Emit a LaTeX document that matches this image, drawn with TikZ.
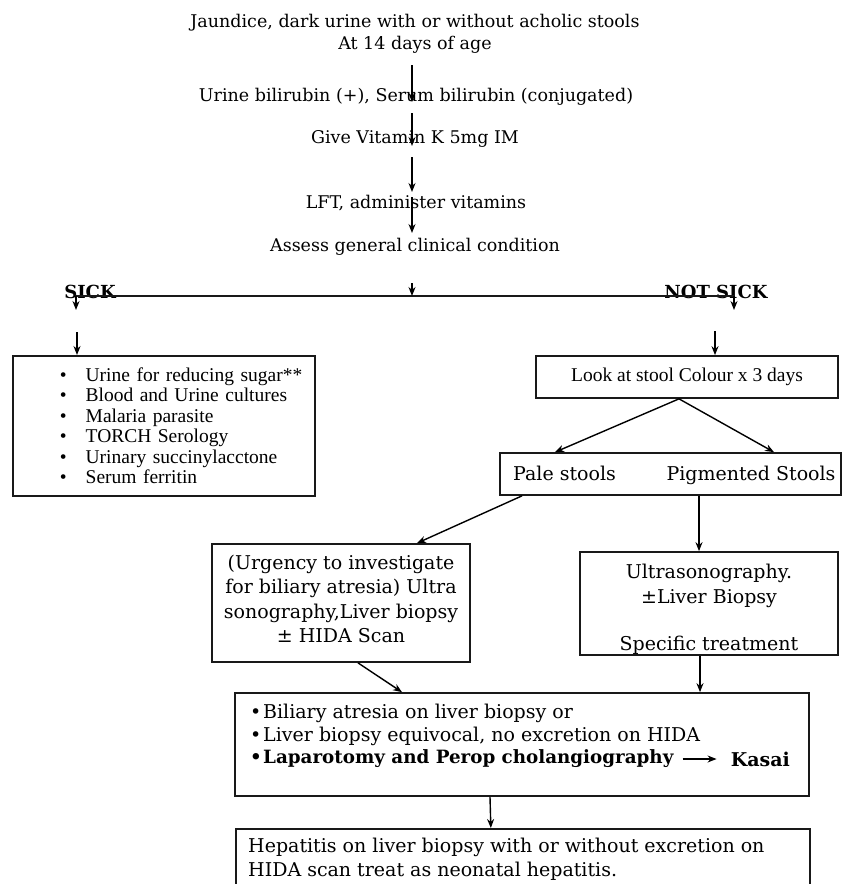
\documentclass[tikz,border=0pt]{standalone}
\usepackage{fontspec}
\setmainfont{DejaVu Serif}
\newfontfamily\listfont{Liberation Serif}
\usetikzlibrary{arrows.meta, calc, positioning}
\newcommand{\toptext}{\fontsize{17.5}{22}\selectfont}
\newcommand{\boxtext}{\fontsize{19}{24.5}\selectfont}
\newcommand{\listtext}{\listfont\fontsize{19.5}{20.5}\selectfont}
\newcommand{\headtext}{\bfseries\fontsize{18}{22}\selectfont}
\tikzset{
  box/.style={draw=black!90, line width=1.7pt, inner sep=0pt},
  plaintext/.style={inner sep=0pt, font=\toptext, align=center},
  linetext/.style={inner sep=0pt, anchor=west, font=\boxtext},
  flow/.style={draw=black, line width=1.4pt, -{Stealth[length=9pt,width=7pt]}},
  bar/.style={draw=black!90, line width=1.7pt}
}

\begin{document}
\begin{tikzpicture}[x=1pt, y=-1pt]
  \useasboundingbox (0,0) rectangle (844,884);
  \clip (0,0) rectangle (844,884);
  % opening steps
  \node[plaintext] (t1) at (415,34) {Jaundice, dark urine with or without acholic stools\\At 14 days of age};
  \node[plaintext] (t2) at (416,97) {Urine bilirubin (+), Serum bilirubin (conjugated)};
  \node[plaintext] (t3) at (415,139) {Give Vitamin K 5mg IM};
  \node[plaintext] (t4) at (416,203) {LFT, administer vitamins};
  \node[plaintext] (t5) at (415,247) {Assess general clinical condition};
  \draw[flow] ($(t1.center)+(-3,31)$) -- ($(t2.center)+(-4,5)$);
  \draw[flow] ($(t2.center)+(-4,16)$) -- ($(t3.center)+(-3,7)$);
  \draw[flow] ($(t3.center)+(-3,18)$) -- ($(t4.center)+(-4,-11)$);
  \draw[flow] ($(t4.center)+(-4,-6)$) -- ($(t5.center)+(-3,-14)$);

  % split sick / not sick
  \node[inner sep=0pt, font=\headtext] (sick) at (90,292) {SICK};
  \node[inner sep=0pt, font=\headtext] (notsick) at (716,292) {NOT SICK};
  \coordinate (split) at (412,296);
  \coordinate (sickend) at (76,296);
  \coordinate (notsickend) at (734,296);
  \draw[bar] (sickend) -- (notsickend);
  \draw[flow] ($(t5.center)+(-3,36)$) -- (split);
  \draw[flow] (sickend) -- ++(0,14);
  \draw[flow] (notsickend) -- ++(0,14);

  % sick branch
  \node[box, anchor=north west, minimum width=302, minimum height=140, text width=298, inner xsep=2pt, align=left, font=\listtext] (sicklist) at (12,355)
    {\begin{tabular}{@{\hspace{45pt}}l@{\hspace{19pt}}l@{}}
      \rule{0pt}{19pt}• & Urine for reducing sugar** \\
      • & Blood and Urine cultures \\
      • & Malaria parasite \\
      • & TORCH Serology \\
      • & Urinary succinylacctone \\
      • & Serum ferritin
    \end{tabular}};
  \draw[flow] ($(sicklist.north west)+(65,-23)$) -- ($(sicklist.north west)+(65,0)$);

  % not sick branch
  \node[box, minimum width=302, minimum height=42, font=\listtext] (look) at (687,377) {Look at stool Colour x 3 days};
  \draw[flow] ($(look.north)+(28,-24)$) -- ($(look.north)+(28,0)$);
  \node[box, minimum width=341, minimum height=42] (stool) at (670.5,474) {};
  \node[inner sep=0pt, anchor=base, font=\boxtext] (pale) at (564.5,480) {Pale stools};
  \node[inner sep=0pt, anchor=base, font=\boxtext] (pigm) at (751,480) {Pigmented Stools};
  \draw[flow] ([xshift=-8pt]look.south) -- ([xshift=-115.5pt]stool.north);
  \draw[flow] ([xshift=-8pt]look.south) -- ([xshift=103.5pt]stool.north);

  \node[box, minimum width=258, minimum height=118] (urg) at (341,603) {};
  \node[plaintext, font=\boxtext] (urgtext) at (341,599) {(Urgency to investigate\\for biliary atresia) Ultra\\sonography,Liver biopsy\\± HIDA Scan};
  \node[box, minimum width=258, minimum height=103] (ultra) at (709,603.5) {};
  \node[plaintext, font=\boxtext] (ultratext) at (709,609.5) {Ultrasonography.\\±Liver Biopsy\\[23pt]Specific treatment};
  \draw[flow] ([xshift=-148.5pt]stool.south) -- ([xshift=76pt]urg.north);
  \draw[flow] ([xshift=28.5pt]stool.south) -- ([xshift=-10pt]ultra.north);

  % outcome
  \node[box, minimum width=574, minimum height=103] (bil) at (522,744.5) {};
  \node[linetext] (bil1) at (250,713) {\makebox[13pt][l]{•}Biliary atresia on liver biopsy or};
  \node[linetext] (bil2) at (250,736) {\makebox[13pt][l]{•}Liver biopsy equivocal, no excretion on HIDA};
  \node[linetext, font=\fontsize{18.3}{24.5}\selectfont\bfseries] (lap) at (250,759) {\makebox[13pt][l]{•}Laparotomy and Perop cholangiography};
  \node[linetext, anchor=east, font=\boxtext\bfseries] (kasai) at (790,759) {Kasai};
  \draw[flow, line width=1.1pt] ([xshift=9pt]lap.east) -- ([xshift=-14pt]kasai.west);
  \draw[flow] ([xshift=17pt]urg.south) -- ([xshift=-120pt]bil.north);
  \draw[flow] ([xshift=-9pt]ultra.south) -- ([xshift=178pt]bil.north);

  \node[box, anchor=north west, minimum width=574, minimum height=80] (hep) at (235,828) {};
  \node[plaintext, anchor=north west, align=left, font=\boxtext] (heptext) at (248,837.6)
    {Hepatitis on liver biopsy with or without excretion on\\HIDA scan treat as neonatal hepatitis.};
  \draw[flow] ([xshift=-32pt]bil.south) -- ([xshift=-32pt]hep.north);
\end{tikzpicture}
\end{document}
